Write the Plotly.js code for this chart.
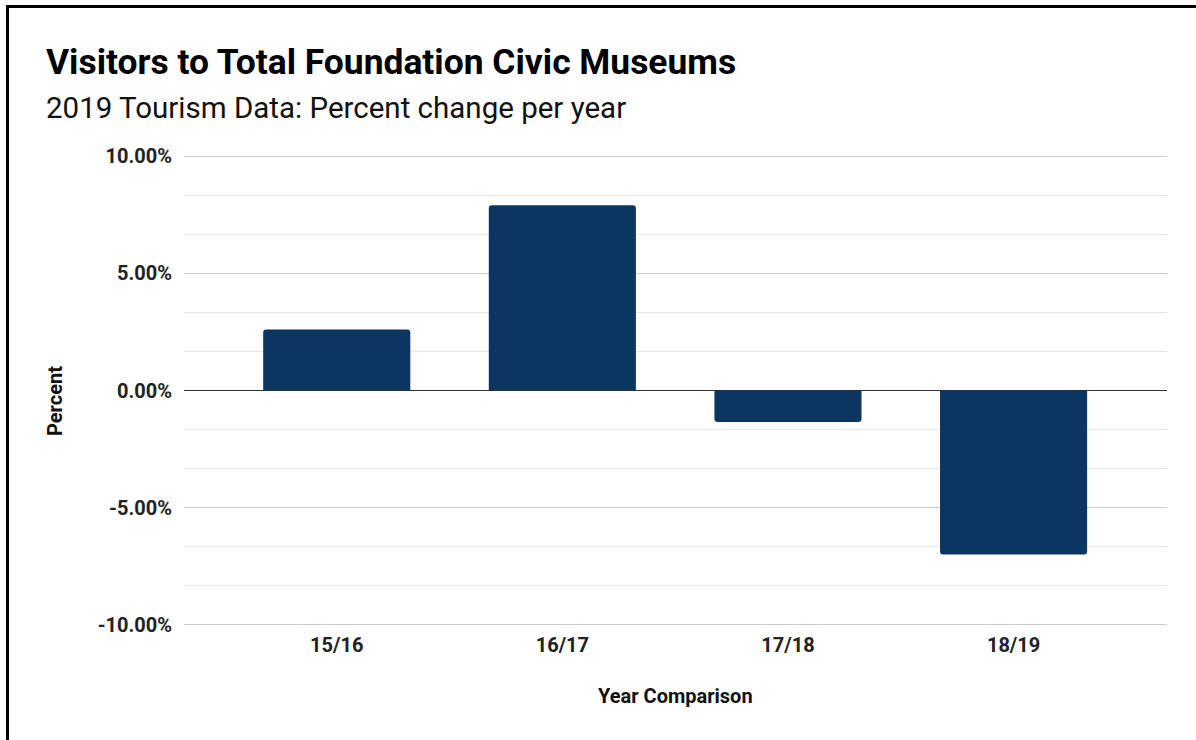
<!DOCTYPE html>
<html>
<head>
<meta charset="utf-8">
<script src="https://cdn.plot.ly/plotly-3.0.1.min.js"></script>
<style>
  html, body { margin: 0; padding: 0; background: #fff; }
  #wrap { position: relative; width: 1196px; height: 740px; overflow: hidden; }
  #chart { position: absolute; left: 0; top: 0; width: 1196px; height: 740px; }
  #frame { position: absolute; left: 6px; top: 5px; width: 1200px; height: 800px;
           border-top: 3px solid #000; border-left: 3px solid #000; pointer-events: none; }
</style>
</head>
<body>
<div id="wrap">
  <div id="chart"></div>
  <div id="frame"></div>
</div>
<script>
const categories = ["15/16", "16/17", "17/18", "18/19"];
const percentChange = [2.61, 7.91, -1.34, -7.00];
const yTickValues = [-10, -5, 0, 5, 10];
const yTickLabels = ["-10.00%", "-5.00%", "0.00%", "5.00%", "10.00%"];
const chartTitle = "Visitors to Total Foundation Civic Museums";
const chartSubtitle = "2019 Tourism Data: Percent change per year";
const xAxisTitle = "Year Comparison";
const yAxisTitle = "Percent";

const W = 1196, H = 740;
const L = 184, R = 29, T = 153.65, B = 112.65;
const pw = W - L - R, ph = H - T - B;
function px2x(x) { return (x - L) / pw; }
function px2y(y) { return (H - B - y) / ph; }

const trace = {
  type: "bar",
  x: categories,
  y: percentChange,
  width: 0.652,
  marker: { color: "#0a3660", cornerradius: 3, line: { width: 0 } },
  hoverinfo: "none"
};

const layout = {
  width: W, height: H,
  margin: { l: L, r: R, t: T, b: B, pad: 0 },
  paper_bgcolor: "#ffffff",
  plot_bgcolor: "#ffffff",
  showlegend: false,
  font: { family: "Roboto, sans-serif", color: "#222" },
  xaxis: {
    type: "category",
    range: [-0.677, 3.68],
    showgrid: false,
    zeroline: false,
    showline: false,
    ticks: "",
    tickfont: { family: "Roboto, sans-serif", size: 20, color: "#222", weight: "bold" },
    ticklabelstandoff: 4
  },
  yaxis: {
    range: [-10.1, 10.1],
    tickvals: yTickValues,
    ticktext: yTickLabels,
    ticks: "",
    showline: false,
    gridcolor: "#cccccc",
    gridwidth: 1,
    zeroline: true,
    zerolinecolor: "#333333",
    zerolinewidth: 1,
    minor: { dtick: 5 / 3, tick0: 0, showgrid: true, gridcolor: "#e6e6e6", gridwidth: 1, ticks: "" },
    tickfont: { family: "Roboto, sans-serif", size: 20, color: "#222", weight: "bold" },
    ticklabelstandoff: 11
  },
  annotations: [
    { text: chartTitle, xref: "paper", yref: "paper", x: px2x(44), y: px2y(62),
      xanchor: "left", yanchor: "middle", showarrow: false,
      font: { family: "Roboto, sans-serif", size: 35.4, color: "#000", weight: "bold" } },
    { text: chartSubtitle, xref: "paper", yref: "paper", x: px2x(44), y: px2y(108),
      xanchor: "left", yanchor: "middle", showarrow: false,
      font: { family: "Roboto, sans-serif", size: 29.5, color: "#111" } },
    { text: xAxisTitle, xref: "paper", yref: "paper", x: px2x(675), y: px2y(696),
      xanchor: "center", yanchor: "middle", showarrow: false,
      font: { family: "Roboto, sans-serif", size: 20, color: "#111", weight: "bold" } },
    { text: yAxisTitle, xref: "paper", yref: "paper", x: px2x(55), y: px2y(401),
      xanchor: "center", yanchor: "middle", showarrow: false, textangle: -90,
      font: { family: "Roboto, sans-serif", size: 20, color: "#111", weight: "bold" } }
  ]
};

Plotly.newPlot("chart", [trace], layout, { displayModeBar: false, staticPlot: true });
</script>
</body>
</html>
